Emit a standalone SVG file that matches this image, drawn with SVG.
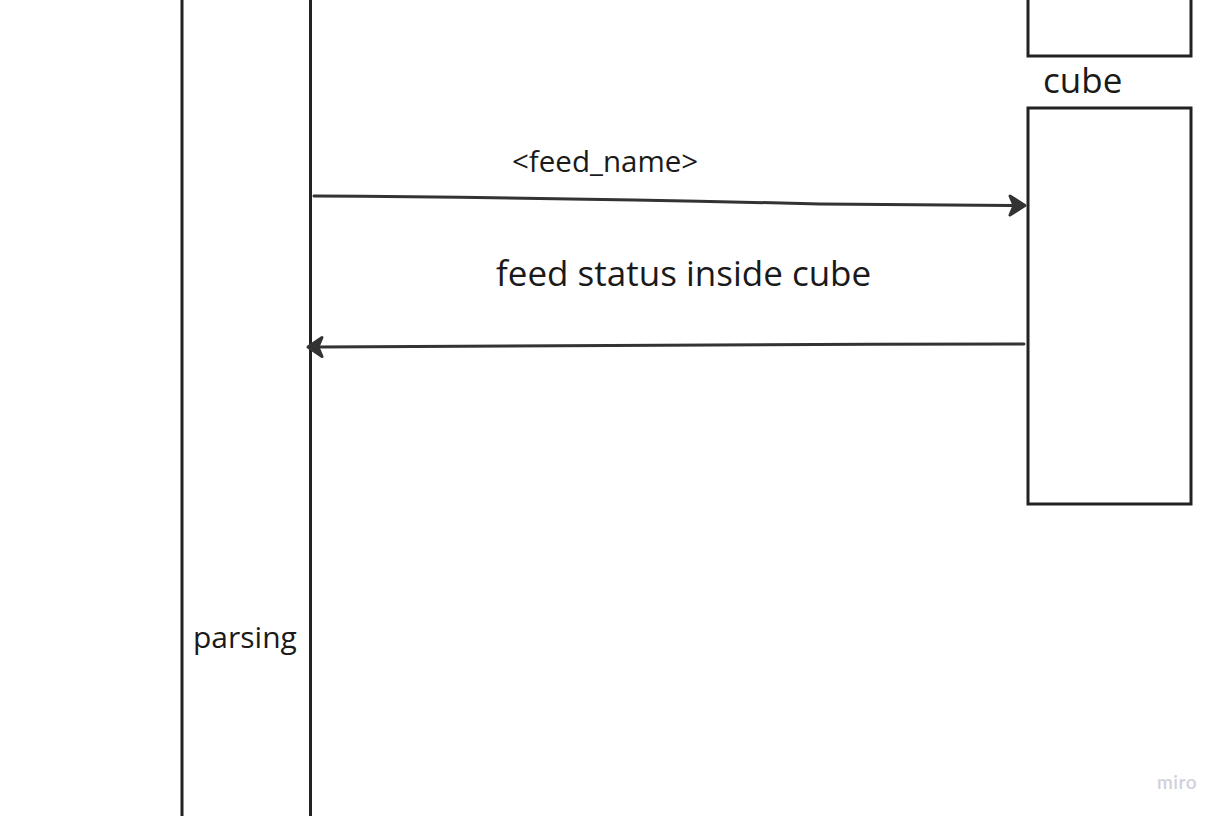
<svg xmlns="http://www.w3.org/2000/svg" width="1224" height="816" viewBox="0 0 1224 816">
<style>
.ln{fill:none;stroke:#222;stroke-width:3}
.box{fill:#fff;stroke:#222;stroke-width:3}
.t{font-family:"Open Sans","Noto Sans",sans-serif;fill:#1a1a1a}
.con{fill:none;stroke:#333;stroke-width:3;stroke-linecap:round}
.head{fill:#333;stroke:#333;stroke-width:3;stroke-linejoin:round}
</style>
<rect width="1224" height="816" fill="#fff"/>
<g id="lifeline-left">
<line class="ln" x1="182" y1="0" x2="182" y2="816"/>
<line class="ln" x1="310.5" y1="0" x2="310.5" y2="816"/>
<text class="t" x="193" y="648" font-size="30">parsing</text>
</g>
<g id="box-top">
<rect class="box" x="1028" y="-10" width="163" height="66"/>
</g>
<g id="cube">
<text class="t" x="1043" y="93" font-size="35">cube</text>
<rect class="box" x="1028" y="108" width="163" height="396"/>
</g>
<g id="connectors">
<path class="con" d="M314,196 C500,197 700,201 820,204 L1012,205.5"/>
<path class="head" d="M1025,205.5 L1010,196 L1014,205.5 L1010,215 Z"/>
<path class="con" d="M1024,344 C800,344 600,346 320,347"/>
<path class="head" d="M308,347 L322,337.5 L318,347 L322,356.5 Z"/>
<text class="t" x="512" y="172" font-size="29.5">&lt;feed_name&gt;</text>
<text class="t" x="496" y="286" font-size="35">feed status inside cube</text>
</g>
<text x="1157" y="789" font-family="Lato,'Open Sans',sans-serif" font-size="19" font-weight="600" letter-spacing="0.5" fill="#d0d1db">miro</text>
</svg>
